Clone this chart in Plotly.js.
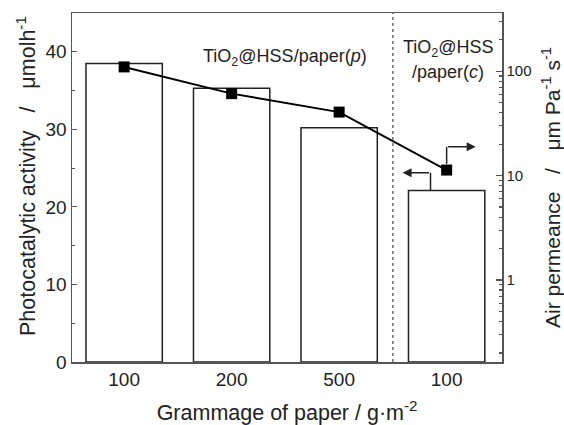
<!DOCTYPE html>
<html>
<head>
<meta charset="utf-8">
<script src="https://cdn.plot.ly/plotly-3.0.1.min.js"></script>
<style>html,body{margin:0;padding:0;background:#fff;}#chart{width:564px;height:425px;}</style>
</head>
<body>
<div id="chart"></div>
<script>
// Data
const categories = ["100", "200", "500", "100"];
const activity = [38.5, 35.3, 30.2, 22.1];          // μmol h^-1 (left axis, bars)
const permeance = [110, 61, 40.6, 11.3];           // μm Pa^-1 s^-1 (right axis, log)
const leftTicks = [0, 10, 20, 30, 40];
const rightTicks = [1, 10, 100];

const xs = categories.map((c, i) => i);
const yRange = [0, 45];
const y2Range = [-0.786, 2.558];
const toLeft = v => (Math.log10(v) - y2Range[0]) / (y2Range[1] - y2Range[0]) * (yRange[1] - yRange[0]);

const ink = '#222';
const fam = 'Liberation Sans, Arial, sans-serif';
const font = {family: fam, color: ink};
const sp = n => '\u00A0'.repeat(n);

const bars = {
  type: 'bar', x: xs, y: activity, width: 0.71,
  marker: {color: 'rgba(255,255,255,1)', line: {color: ink, width: 1.5}},
  yaxis: 'y', hoverinfo: 'skip'
};
const line = {
  type: 'scatter', mode: 'lines+markers', x: xs, y: permeance, yaxis: 'y2',
  line: {color: '#000', width: 2},
  marker: {symbol: 'square', size: 11, color: '#000'},
  cliponaxis: false
};

const minorVals = [];
[0.1, 1, 10, 100].forEach(d => { for (let k = 2; k <= 9; k++) minorVals.push(d * k); });

// arrow geometry derived from last data point
const mTop = toLeft(permeance[3]) + 0.8;
const mUp = mTop + 2.2;
const bTop = activity[3];
const bUp = bTop + 2.3;
const bx = xs[3] - 0.15;

const leftTitle = 'Photocatalytic activity' + sp(3) + '/' + sp(3) + 'μmolh<sup>-1</sup>';

const layout = {
  width: 564, height: 425,
  margin: {l: 72, r: 62, t: 13, b: 63},
  paper_bgcolor: '#fff', plot_bgcolor: '#fff',
  showlegend: false,
  font: font,
  xaxis: {
    range: [-0.485, 3.515], tickmode: 'array', tickvals: xs, ticktext: categories,
    showline: true, linecolor: '#555', linewidth: 1.5, mirror: true,
    ticks: '', showgrid: false, zeroline: false,
    tickfont: {size: 19, family: fam, color: ink},
    title: {text: 'Grammage of paper / g·m<sup>-2</sup>', font: {size: 21.5, family: fam, color: ink}, standoff: 15}
  },
  yaxis: {
    range: yRange, tickmode: 'array', tickvals: leftTicks,
    showline: true, linecolor: '#555', linewidth: 1.5,
    ticks: 'inside', ticklen: 5, tickcolor: '#555', tickwidth: 1.2,
    minor: {ticks: 'inside', ticklen: 3, tickcolor: '#555', dtick: 5, tick0: 0, showgrid: false},
    showgrid: false, zeroline: false,
    tickfont: {size: 19, family: fam, color: ink}
  },
  yaxis2: {
    type: 'log', range: y2Range, overlaying: 'y', side: 'right',
    tickmode: 'array', tickvals: rightTicks, ticktext: rightTicks.map(String),
    showline: true, linecolor: '#555', linewidth: 1.5,
    ticks: 'inside', ticklen: 6, tickcolor: '#555', tickwidth: 1.2,
    minor: {ticks: 'inside', ticklen: 3, tickcolor: '#555', tickmode: 'array', tickvals: minorVals, showgrid: false},
    showgrid: false, zeroline: false,
    tickfont: {size: 15, family: fam, color: ink},
    title: {text: 'Air permeance' + sp(3) + '/' + sp(3) + 'μm' + sp(1) + 'Pa<sup>-1</sup>' + sp(1) + 's<sup>-1</sup>',
            font: {size: 21, family: fam, color: ink}, standoff: 16}
  },
  shapes: [
    {type: 'line', xref: 'x', yref: 'paper', x0: 2.5, x1: 2.5, y0: 0, y1: 1, line: {color: '#555', width: 1.3, dash: 'dot'}},
    {type: 'line', xref: 'x', yref: 'y', x0: xs[3], x1: xs[3], y0: mTop, y1: mUp, line: {color: ink, width: 1.5}},
    {type: 'line', xref: 'x', yref: 'y', x0: bx, x1: bx, y0: bTop, y1: bUp, line: {color: ink, width: 1.5}}
  ],
  annotations: [
    {xref: 'paper', yref: 'paper', x: -0.107, y: 0.533, xanchor: 'center', yanchor: 'middle',
     textangle: -90, showarrow: false, text: leftTitle, font: {size: 21.5, family: fam, color: ink}},
    {xref: 'x', yref: 'y', x: xs[3] + 0.27, y: mUp, ax: xs[3], ay: mUp, axref: 'x', ayref: 'y',
     showarrow: true, arrowhead: 2, arrowsize: 1.2, arrowwidth: 1.5, arrowcolor: ink, text: ''},
    {xref: 'x', yref: 'y', x: xs[3] - 0.41, y: bUp, ax: bx, ay: bUp, axref: 'x', ayref: 'y',
     showarrow: true, arrowhead: 2, arrowsize: 1.2, arrowwidth: 1.5, arrowcolor: ink, text: ''},
    {xref: 'x', yref: 'y', x: 1.496, y: 39.2, showarrow: false,
     text: 'TiO<sub>2</sub>@HSS/paper(<i>p</i>)', font: {size: 18, family: fam, color: ink}},
    {xref: 'x', yref: 'y', x: 3.013, y: 40.4, showarrow: false,
     text: 'TiO<sub>2</sub>@HSS', font: {size: 18, family: fam, color: ink}},
    {xref: 'x', yref: 'y', x: 3.013, y: 37.4, showarrow: false,
     text: '/paper(<i>c</i>)', font: {size: 18, family: fam, color: ink}}
  ]
};

Plotly.newPlot('chart', [bars, line], layout, {displayModeBar: false, staticPlot: true});
</script>
</body>
</html>
